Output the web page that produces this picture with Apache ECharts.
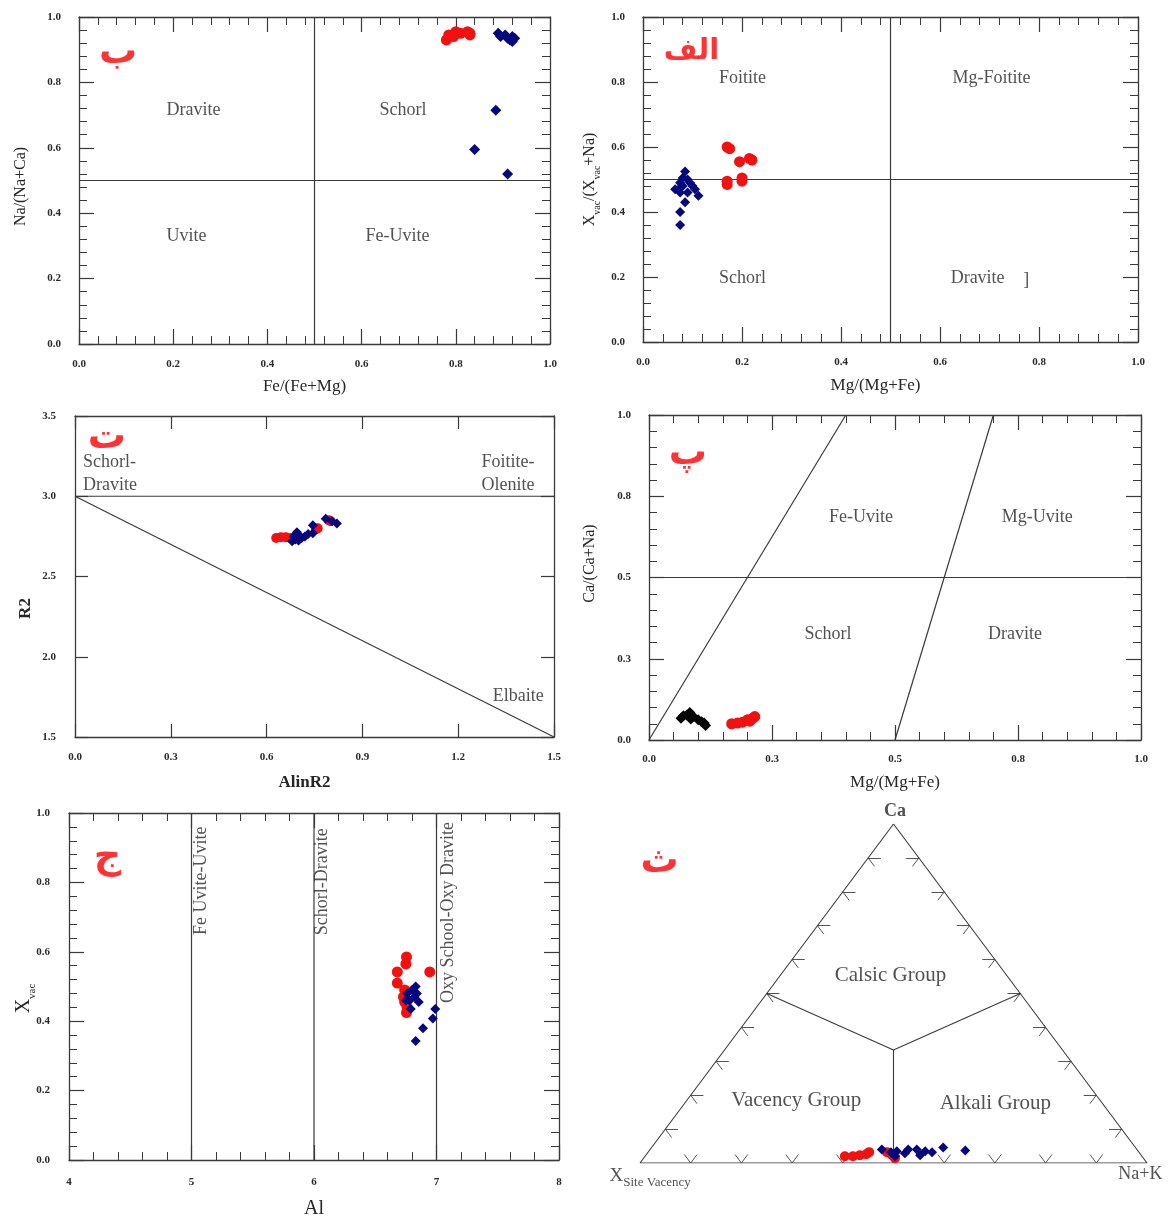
<!DOCTYPE html>
<html><head><meta charset="utf-8">
<script src="https://cdn.jsdelivr.net/npm/echarts/dist/echarts.min.js"></script>
<style>html,body{margin:0;padding:0;background:#fff}#c{width:1168px;height:1219px}</style>
</head><body><div id="c"></div>
<script>
// ---------- DATA ----------
// Panel ب : Fe/(Fe+Mg) vs Na/(Na+Ca)
const pB_red = [[0.78,0.93],[0.785,0.945],[0.795,0.94],[0.80,0.955],[0.81,0.95],[0.825,0.955],[0.83,0.95],[0.83,0.945]];
const pB_blue = [[0.89,0.95],[0.895,0.94],[0.905,0.945],[0.91,0.935],[0.915,0.93],[0.92,0.94],[0.925,0.935],[0.92,0.925],[0.885,0.715],[0.84,0.595],[0.91,0.52]];
// Panel الف : Mg/(Mg+Fe) vs Xvac/(Xvac+Na)
const pA_blue = [[0.085,0.525],[0.08,0.505],[0.09,0.50],[0.075,0.49],[0.095,0.49],[0.065,0.47],[0.075,0.475],[0.08,0.48],[0.10,0.48],[0.105,0.47],[0.075,0.46],[0.09,0.46],[0.112,0.45],[0.085,0.43],[0.075,0.40],[0.075,0.36]];
const pA_red = [[0.17,0.60],[0.175,0.595],[0.195,0.555],[0.215,0.565],[0.22,0.56],[0.17,0.495],[0.17,0.485],[0.20,0.505],[0.20,0.495]];
// Panel ت : AlinR2 vs R2
const pT_red = [[0.63,2.74],[0.645,2.745],[0.66,2.745],[0.675,2.74],[0.69,2.745],[0.755,2.795],[0.76,2.80],[0.795,2.85],[0.80,2.845]];
const pT_blue = [[0.68,2.72],[0.69,2.73],[0.70,2.725],[0.685,2.75],[0.70,2.76],[0.695,2.775],[0.71,2.74],[0.72,2.75],[0.73,2.765],[0.745,2.77],[0.745,2.82],[0.785,2.86],[0.805,2.845],[0.82,2.83]];
// Panel پ : Mg/(Mg+Fe) vs Ca/(Ca+Na)
const pP_black = [[0.065,0.067],[0.07,0.075],[0.077,0.077],[0.083,0.085],[0.09,0.072],[0.085,0.065],[0.10,0.062],[0.107,0.056],[0.115,0.045],[0.112,0.052]];
const pP_red = [[0.168,0.05],[0.18,0.052],[0.19,0.055],[0.20,0.062],[0.21,0.066],[0.215,0.072],[0.205,0.058]];
const pP_ticks = ['0.0','0.3','0.5','0.8','1.0'];
// Panel ج : Al vs Xvac
const pJ_red = [[6.755,0.585],[6.75,0.565],[6.68,0.542],[6.945,0.542],[6.68,0.51],[6.74,0.49],[6.73,0.47],[6.74,0.455],[6.76,0.44],[6.755,0.425]];
const pJ_blue = [[6.83,0.50],[6.76,0.48],[6.82,0.47],[6.75,0.46],[6.855,0.455],[6.79,0.435],[6.80,0.49],[6.84,0.48],[6.78,0.46],[6.99,0.435],[6.97,0.408],[6.89,0.38],[6.83,0.343]];
// Panel ث : ternary [X-site vacancy, Na+K, Ca]
const pS_red = [[0.586,0.394,0.02],[0.57,0.41,0.02],[0.555,0.422,0.023],[0.541,0.433,0.026],[0.532,0.436,0.032],[0.497,0.471,0.032],[0.491,0.486,0.023],[0.49,0.496,0.014]];
const pS_blue = [[0.503,0.457,0.04],[0.489,0.479,0.032],[0.476,0.489,0.035],[0.463,0.508,0.029],[0.451,0.509,0.04],[0.434,0.526,0.04],[0.436,0.541,0.023],[0.42,0.545,0.035],[0.408,0.56,0.032],[0.379,0.575,0.046],[0.34,0.623,0.037],[0.487,0.493,0.02]];

// ---------- STYLE ----------
const SERIF = '"Liberation Serif","Times New Roman",serif';
const LINE = '#3a3a3a';
const TXT = '#262626';
const RED = '#f21010';
const BLUE = '#06067e';
const ARAB = {fontFamily:'"DejaVu Sans",sans-serif', fontWeight:'bold', fontSize:38, color:'#ff0000'};
const ARAB3 = {...ARAB, fontSize:29};

const grids = [
  {left:79, top:17, width:471, height:327},   // ب
  {left:643, top:17, width:495, height:325},  // الف
  {left:75, top:416, width:479, height:321},  // ت
  {left:649, top:415, width:492, height:325}, // پ
  {left:69, top:813, width:490, height:347},  // ج
  {left:640, top:824, width:507, height:339}  // ث
];

const xAxes = [], yAxes = [];
function addAxes(gi, c) {
  const common = (dim, pos, labels) => {
    const isX = dim === 'x';
    const o = {
      gridIndex: gi, type:'value', position: pos,
      min: isX ? c.xmin : c.ymin, max: isX ? c.xmax : c.ymax,
      interval: isX ? c.xint : c.yint,
      axisLine:{show:true, onZero:false, lineStyle:{color:LINE, width:1.3}},
      axisTick:{show:true, inside:true, length:c.maj, lineStyle:{color:LINE, width:1.2}},
      minorTick:{show: !!(isX ? c.xminor : c.yminor), splitNumber:(isX ? c.xminor : c.yminor) || 5, length:c.min, lineStyle:{color:LINE, width:1}},
      splitLine:{show:false}, minorSplitLine:{show:false},
      axisLabel:{show:labels, fontFamily:SERIF, fontWeight:'bold', fontSize:11, color:'#2a2a2a',
        margin: isX ? c.xmargin : c.ymargin, formatter: isX ? c.xfmt : c.yfmt},
      nameMoveOverlap:false
    };
    if (labels) {
      o.name = isX ? c.xname : c.yname;
      o.nameLocation = 'middle';
      o.nameGap = isX ? c.xgap : c.ygap;
      o.nameTextStyle = isX ? c.xnameStyle : c.ynameStyle;
    }
    return o;
  };
  xAxes.push(common('x','bottom',true), common('x','top',false));
  yAxes.push(common('y','left',true), common('y','right',false));
}
const f1 = v => v.toFixed(1);
const nameStyle = (size, bold, pad) => ({fontFamily:SERIF, fontSize:size, color:TXT, fontWeight: bold ? 'bold' : 'normal', padding: pad || 0});
const subRich = (big, small) => ({m:{fontFamily:SERIF, fontSize:big, color:TXT, lineHeight:big+2}, s:{fontFamily:SERIF, fontSize:small, color:TXT, verticalAlign:'bottom', lineHeight:small+1, padding:[0,0,-3,0]}});

addAxes(0, {xmin:0,xmax:1,xint:0.2,xminor:5,ymin:0,ymax:1,yint:0.2,yminor:5,maj:15,min:8,xmargin:15,ymargin:18,xfmt:f1,yfmt:f1,
  xname:'Fe/(Fe+Mg)', xgap:34, xnameStyle:nameStyle(17,false,[0,20,0,0]), yname:'Na/(Na+Ca)', ygap:50, ynameStyle:nameStyle(16,false,[0,12,0,0])});
addAxes(1, {xmin:0,xmax:1,xint:0.2,xminor:5,ymin:0,ymax:1,yint:0.2,yminor:5,maj:15,min:8,xmargin:15,ymargin:18,xfmt:f1,yfmt:f1,
  xname:'Mg/(Mg+Fe)', xgap:35, xnameStyle:nameStyle(17,false,[0,30,0,0]),
  yname:'{m|X}{s|vac}{m|/(X}{s|vac}{m|+Na)}', ygap:44, ynameStyle:{rich:subRich(16,10)}});
addAxes(2, {xmin:0,xmax:1.5,xint:0.3,xminor:0,ymin:1.5,ymax:3.5,yint:0.5,yminor:0,maj:13,min:6,xmargin:15,ymargin:19,xfmt:f1,yfmt:f1,
  xname:'AlinR2', xgap:37, xnameStyle:nameStyle(17,true,[0,20,0,0]), yname:'R2', ygap:41, ynameStyle:nameStyle(17,true,[0,64,0,0])});
addAxes(3, {xmin:0,xmax:1,xint:0.25,xminor:5,ymin:0,ymax:1,yint:0.25,yminor:5,maj:15,min:8,xmargin:14,ymargin:18,
  xfmt:v=>pP_ticks[Math.round(v/0.25)], yfmt:v=>pP_ticks[Math.round(v/0.25)],
  xname:'Mg/(Mg+Fe)', xgap:34, xnameStyle:nameStyle(17), yname:'Ca/(Ca+Na)', ygap:51, ynameStyle:nameStyle(16,false,[0,0,0,28])});
addAxes(4, {xmin:4,xmax:8,xint:1,xminor:5,ymin:0,ymax:1,yint:0.2,yminor:5,maj:15,min:8,xmargin:17,ymargin:19,xfmt:v=>String(v),yfmt:f1,
  xname:'Al', xgap:39, xnameStyle:nameStyle(20), yname:'{m|X}{s|vac}', ygap:34, ynameStyle:{rich:subRich(20,11), padding:[0,24,0,0]}});
// ternary grid axes (hidden)
xAxes.push({gridIndex:5, type:'value', min:0, max:1, show:false});
yAxes.push({gridIndex:5, type:'value', min:0, max:1, show:false});

// ---------- SERIES ----------
const series = [];
function scatter(gi, data, color, symbol, size) {
  series.push({type:'scatter', xAxisIndex: gi*2, yAxisIndex: gi*2, data, symbol, symbolSize:size,
    itemStyle:{color, opacity:1}, silent:true, z:3});
}
function seg(gi, pts, width) {
  series.push({type:'line', xAxisIndex: gi*2, yAxisIndex: gi*2, data: pts, symbol:'none',
    lineStyle:{color:LINE, width: width || 1.2}, silent:true, z:2, animation:false});
}
function texts(gi, items, style, rotate) {
  series.push({type:'scatter', xAxisIndex: gi===5 ? 10 : gi*2, yAxisIndex: gi===5 ? 10 : gi*2,
    data: items.map(t => ({name:t[0], value:[t[1], t[2]]})), symbolSize:0, clip:false,
    itemStyle:{color:'rgba(0,0,0,0)'}, silent:true, z:5,
    label:{show:true, position:'inside', formatter:'{b}', rotate: rotate || 0,
      fontFamily:SERIF, fontSize:18, color:TXT, lineHeight:23, ...style}});
}

// Panel ب
seg(0, [[0.5,0],[0.5,1]]); seg(0, [[0,0.5],[1,0.5]]);
scatter(0, pB_red, RED, 'circle', 11);
scatter(0, pB_blue, BLUE, 'diamond', 11);
texts(0, [['Dravite',0.243,0.715],['Schorl',0.688,0.715],['Uvite',0.228,0.328],['Fe-Uvite',0.676,0.328]], {});
texts(0, [['ب',0.083,0.89]], ARAB);

// Panel الف
seg(1, [[0.5,0],[0.5,1]]); seg(1, [[0,0.5],[1,0.5]]);
scatter(1, pA_blue, BLUE, 'diamond', 10);
scatter(1, pA_red, RED, 'circle', 11);
texts(1, [['Foitite',0.201,0.813],['Mg-Foitite',0.704,0.813],['Schorl',0.201,0.196],['Dravite',0.676,0.196],[']',0.774,0.19]], {});
texts(1, [['الف',0.098,0.895]], ARAB3);

// Panel ت
seg(2, [[0,3],[1.5,3]]); seg(2, [[0,3],[1.5,1.5]]);
scatter(2, pT_red, RED, 'circle', 10);
scatter(2, pT_blue, BLUE, 'diamond', 10);
texts(2, [['Schorl-\nDravite',0.025,3.142],['Foitite-\nOlenite',1.273,3.139],['Elbaite',1.308,1.751]], {fontSize:18, align:'left'});
texts(2, [['ت',0.1,3.36]], ARAB);

// Panel پ
seg(3, [[0,0.5],[1,0.5]]); seg(3, [[0,0],[0.4,1]]); seg(3, [[0.5,0],[0.7,1]]);
scatter(3, pP_black, '#050505', 'diamond', 11);
scatter(3, pP_red, RED, 'circle', 11);
texts(3, [['Fe-Uvite',0.431,0.685],['Mg-Uvite',0.789,0.685],['Schorl',0.364,0.325],['Dravite',0.744,0.325]], {});
texts(3, [['پ',0.079,0.88]], ARAB);

// Panel ج
seg(4, [[5,0],[5,1]]); seg(4, [[6,0],[6,1]]); seg(4, [[7,0],[7,1]]);
scatter(4, pJ_red, RED, 'circle', 11);
scatter(4, pJ_blue, BLUE, 'diamond', 10);
texts(4, [['Fe Uvite-Uvite',5.083,0.805],['Schorl-Dravite',6.07,0.802],['Oxy School-Oxy Dravite',7.094,0.713]], {fontSize:18}, 90);
texts(4, [['ج',4.313,0.87]], ARAB);

// Panel ث (ternary -> cartesian inside grid 5)
const tern = p => { const s = p[0]+p[1]+p[2]; return [(p[1] + p[2]/2)/s, p[2]/s]; };
const V_A = [1,0,0], V_B = [0,1,0], V_C = [0,0,1], CEN = [1/3,1/3,1/3];
function tseg(pts) {
  series.push({type:'line', xAxisIndex:10, yAxisIndex:10, data: pts.map(tern), symbol:'none',
    lineStyle:{color:LINE, width:1.1}, silent:true, z:2, animation:false});
}
tseg([V_A, V_B, V_C, V_A]);
tseg([CEN, [0.5,0,0.5]]); tseg([CEN, [0,0.5,0.5]]); tseg([CEN, [0.5,0.5,0]]);
// edge tick chevrons every 0.1
const tickLines = [];
const d = 0.025;
for (let i = 1; i <= 9; i++) {
  const t = i/10;
  const L = [1-t, 0, t];      // left edge (vac-Ca)
  tickLines.push([L, [L[0]-d, L[1]+d, L[2]]], [L, [L[0], L[1]+d, L[2]-d]]);
  const Bt = [1-t, t, 0];     // bottom edge
  tickLines.push([Bt, [Bt[0]-d, Bt[1], Bt[2]+d]], [Bt, [Bt[0], Bt[1]-d, Bt[2]+d]]);
  const R = [0, 1-t, t];      // right edge
  tickLines.push([R, [R[0]+d, R[1]-d, R[2]]], [R, [R[0]+d, R[1], R[2]-d]]);
}
series.push({type:'lines', coordinateSystem:'cartesian2d', xAxisIndex:10, yAxisIndex:10, silent:true,
  data: tickLines.map(s => ({coords: s.map(tern)})), lineStyle:{color:'#555', width:1, opacity:1}, z:2, animation:false});
series.push({type:'scatter', xAxisIndex:10, yAxisIndex:10, data: pS_red.map(tern), symbol:'circle', symbolSize:10, itemStyle:{color:RED, opacity:1}, silent:true, z:3});
series.push({type:'scatter', xAxisIndex:10, yAxisIndex:10, data: pS_blue.map(tern), symbol:'diamond', symbolSize:10, itemStyle:{color:BLUE, opacity:1}, silent:true, z:3});
texts(5, [['Calsic Group',0.494,0.553],['Vacency Group',0.308,0.185],['Alkali Group',0.701,0.177]], {fontSize:21});
texts(5, [['Ca',0.503,1.036]], {fontSize:18, fontWeight:'bold'});
texts(5, [['Na+K',0.987,-0.033]], {fontSize:18});
series.push({type:'scatter', xAxisIndex:10, yAxisIndex:10, data:[{name:'x', value:[0.02,-0.038]}], symbolSize:0, clip:false,
  itemStyle:{color:'rgba(0,0,0,0)'}, silent:true, z:5,
  label:{show:true, position:'inside', formatter:'{m|X}{s|Site Vacency}',
    rich:{m:{fontFamily:SERIF, fontSize:19, color:TXT, lineHeight:20}, s:{fontFamily:SERIF, fontSize:13, color:TXT, verticalAlign:'bottom', lineHeight:13, padding:[0,0,-3,0]}}}});
texts(5, [['ث',0.0385,0.889]], ARAB);

const chart = echarts.init(document.getElementById('c'), null, {renderer:'canvas'});
chart.setOption({
  backgroundColor:'#fff', animation:false,
  grid: grids.map(g => ({...g, containLabel:false, outerBoundsMode:'none'})),
  xAxis: xAxes, yAxis: yAxes, series
});
</script></body></html>
